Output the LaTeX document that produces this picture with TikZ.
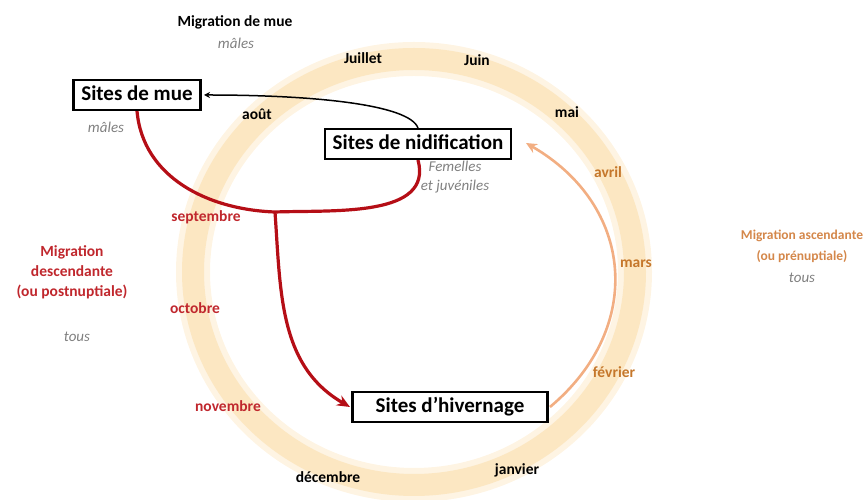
\documentclass[tikz,border=0pt]{standalone}
\usepackage{fontspec}
\setmainfont{Carlito}
\usepackage{tikz}
\usetikzlibrary{arrows.meta}
\tikzset{>=Stealth}
\definecolor{ringcol}{HTML}{FCE7C2}
\definecolor{ringglow}{HTML}{FEF4E3}
\definecolor{migred}{HTML}{B50E16}
\definecolor{redtext}{HTML}{C0272D}
\definecolor{salmon}{HTML}{F2AE82}
\definecolor{orangetext}{HTML}{C5772B}
\definecolor{asctext}{HTML}{D4874A}
\definecolor{notegrey}{HTML}{808080}

\begin{document}
\begin{tikzpicture}[x=1pt, y=1pt,
    site/.style={draw, line width=2.4pt, fill=white, inner xsep=8pt, inner ysep=5pt,
        text height=15pt, text depth=4.5pt, font=\fontsize{21}{24}\selectfont\bfseries},
    month/.style={font=\fontsize{15.5}{19}\selectfont\bfseries},
    note/.style={text=notegrey, font=\fontsize{15}{19}\selectfont\itshape, align=center}
    ]
    \useasboundingbox (0,0) rectangle (863,500);
    % year ring
    \draw[ringglow, line width=34pt] (414,228) ellipse [x radius=221, y radius=213];
    \draw[ringcol, line width=22pt] (414,228) ellipse [x radius=221, y radius=213];

    \coordinate (jn) at (275,288);

    % migration routes
    \draw[migred, line width=3.2pt] (137,389) to[out=-85, in=178] (jn) to[out=2, in=-75] (418,340);
    \path[->, line width=3.2pt, migred, >={Stealth[length=13pt, width=11pt]}]
    (jn) edge [out=-86, in=150] (350,93);
    \path[->, line width=1.5pt, >={Stealth[length=6pt, width=6pt]}]
    (418,372) edge [out=110, in=0, out distance=25, in distance=110] (204,405);
    \path[->, line width=2.6pt, salmon, >={Stealth[length=11pt, width=10pt]}]
    (550,93) edge [out=40, in=-30, looseness=1.2] (526,357);

    % sites
    \node[site] at (137,405) (mue) {Sites de mue};
    \node[site] at (418,356) (nid) {Sites de nidification};
    \node[site, inner xsep=23pt] at (450,93) (hiv) {Sites d'hivernage};

    % months
    \node[month] at (257,386) (aout) {août};
    \node[month] at (363,442) (juillet) {Juillet};
    \node[month] at (477,440) (juin) {Juin};
    \node[month] at (567,388) (mai) {mai};
    \node[month, text=orangetext] at (608,328) (avril) {avril};
    \node[month, text=orangetext] at (636,236) (mars) {mars};
    \node[month, text=orangetext] at (614,128) (fevrier) {février};
    \node[month] at (517,30) (janvier) {janvier};
    \node[month] at (328,23) (decembre) {décembre};
    \node[month, text=redtext] at (228,94) (novembre) {novembre};
    \node[month, text=redtext] at (195,192) (octobre) {octobre};
    \node[month, text=redtext] at (206,283) (septembre) {septembre};

    % migrations
    \node[month] at (235,478) (migmue) {Migration de mue};
    \node[note] at (236,457) (malesA) {mâles};
    \node[note] at (106,373) (malesB) {mâles};
    \node[note] at (455,323) (femelles) {Femelles\\et juvéniles};
    \node[month, text=redtext, align=center, font=\fontsize{15.5}{20}\selectfont\bfseries]
        at (72,228) (migdesc) {Migration\\descendante\\(ou postnuptiale)};
    \node[note] at (77,163) (tousA) {tous};
    \node[month, text=asctext, align=center, font=\fontsize{13.5}{21}\selectfont\bfseries]
        at (802,254) (migasc) {Migration ascendante\\(ou prénuptiale)};
    \node[note] at (802,222) (tousB) {tous};
\end{tikzpicture}
\end{document}
